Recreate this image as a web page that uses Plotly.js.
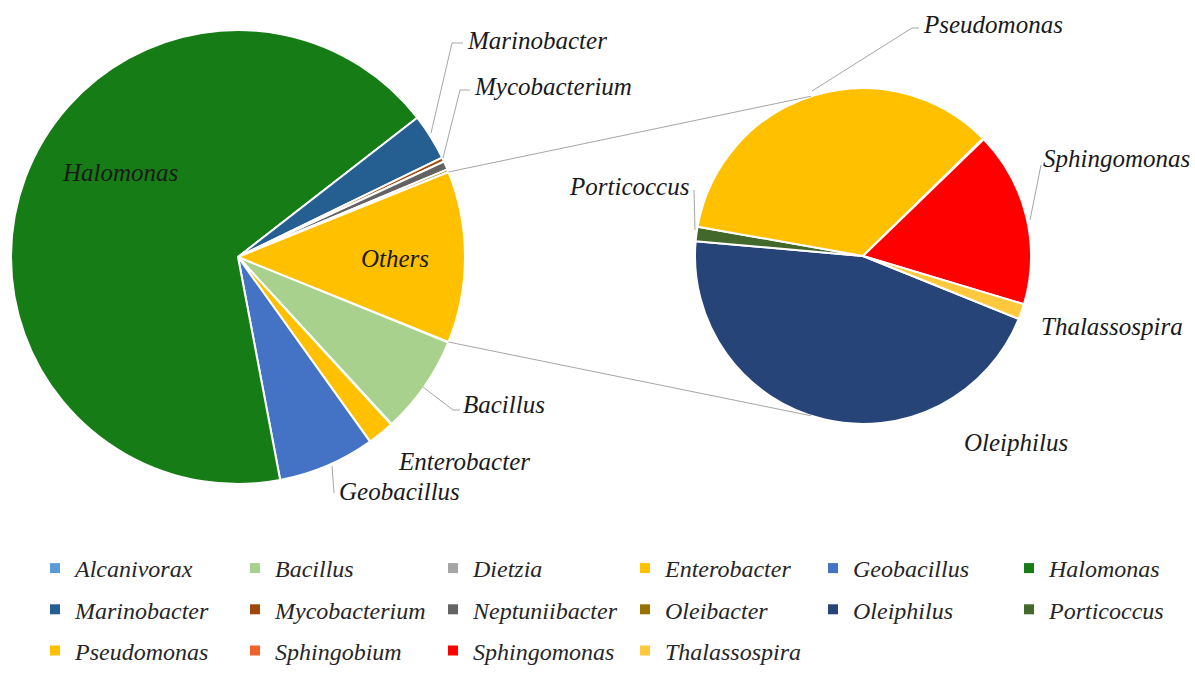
<!DOCTYPE html>
<html><head><meta charset="utf-8">
<script src="https://cdn.plot.ly/plotly-3.0.1.min.js"></script>
<style>html,body{margin:0;padding:0;background:#fff}#chart{width:1195px;height:673px}</style>
</head><body><div id="chart"></div>
<script>
// ---- data ----
const mainLabels = ['Alcanivorax','Bacillus','Dietzia','Enterobacter','Geobacillus','Halomonas','Marinobacter','Mycobacterium','Neptuniibacter','Oleibacter'];
const mainValues = [0.05, 7.0, 0.05, 1.9, 6.9, 67.4, 3.3, 0.3, 0.6, 0.2];
const subLabels = ['Oleiphilus','Porticoccus','Pseudomonas','Sphingobium','Sphingomonas','Thalassospira'];
const subValues = [5.53, 0.17, 4.26, 0.01, 2.06, 0.18];
const othersLabel = 'Others';
const legendLabels = ['Alcanivorax','Bacillus','Dietzia','Enterobacter','Geobacillus','Halomonas',
  'Marinobacter','Mycobacterium','Neptuniibacter','Oleibacter','Oleiphilus','Porticoccus',
  'Pseudomonas','Sphingobium','Sphingomonas','Thalassospira'];
const colorOf = {
  Alcanivorax:'#5B9BD5', Bacillus:'#A9D18E', Dietzia:'#A5A5A5', Enterobacter:'#FFC000',
  Geobacillus:'#4472C4', Halomonas:'#167C16', Marinobacter:'#255E91', Mycobacterium:'#9E480E',
  Neptuniibacter:'#636363', Oleibacter:'#997300', Oleiphilus:'#264478', Porticoccus:'#43682B',
  Pseudomonas:'#FFC000', Sphingobium:'#F0622A', Sphingomonas:'#FF0000', Thalassospira:'#FFC83D',
  Others:'#FFC000'
};

// ---- geometry (style) ----
const W = 1195, H = 673;
const L = {cx:238, cy:257, r:227};
const R = {cx:863, cy:256, r:168};
const px = x => x / W, py = y => 1 - y / H;
const dom = g => ({x:[px(g.cx-g.r), px(g.cx+g.r)], y:[py(g.cy+g.r), py(g.cy-g.r)]});

const othersVal = subValues.reduce((a,b)=>a+b,0);
const total = mainValues.reduce((a,b)=>a+b,0) + othersVal;
const othersDeg = othersVal / total * 360;
const rot = 90 + othersDeg / 2;

const lineW = {color:'#FFFFFF', width:2};
const pie1Labels = mainLabels.concat([othersLabel]);
const pie1 = {
  type:'pie', labels:pie1Labels, values:mainValues.concat([othersVal]),
  marker:{colors:pie1Labels.map(l=>colorOf[l]), line:lineW},
  sort:false, direction:'clockwise', rotation:rot, textinfo:'none',
  hoverinfo:'label+percent', showlegend:false, domain:dom(L)
};
const pie2 = {
  type:'pie', labels:subLabels, values:subValues,
  marker:{colors:subLabels.map(l=>colorOf[l]), line:lineW},
  sort:false, direction:'clockwise', rotation:rot, textinfo:'none',
  hoverinfo:'label+percent', showlegend:false, domain:dom(R)
};

const SERIF = 'Liberation Serif';
const fontLab = {family:SERIF, size:25, color:'#1a1a1a', style:'italic'};
const fontLeg = {family:SERIF, size:24, color:'#262626', style:'italic'};

// legend: one vertical legend per column (6 columns, filled row by row)
const colX = [54, 254, 452, 644, 832, 1028];
const legendTraces = legendLabels.map((l,i)=>({
  type:'scatter', x:[null], y:[null], mode:'markers', name:l,
  marker:{symbol:'square', size:10, color:colorOf[l]},
  legend: (i % 6) === 0 ? 'legend' : 'legend' + ((i % 6) + 1),
  legendgroup:'g' + i, hoverinfo:'skip'
}));

// label annotations: text, x, center y, anchor
const labelPos = [
  ['Halomonas',120,172,'center'], ['Others',395,258,'center'],
  ['Marinobacter',465,40,'left'], ['Mycobacterium',472,86,'left'],
  ['Bacillus',461,404,'left'], ['Enterobacter',396,461,'left'], ['Geobacillus',337,492,'left'],
  ['Pseudomonas',921,25,'left'], ['Porticoccus',567,186,'left'],
  ['Sphingomonas',1041,158,'left'], ['Thalassospira',1039,326,'left'], ['Oleiphilus',962,442,'left']
];
const annotations = labelPos.map(([t,x,y,a])=>({
  text:t, x:px(x), y:py(y), xref:'paper', yref:'paper', xanchor:a, yanchor:'middle',
  showarrow:false, font:fontLab
}));

const grey = {color:'#A6A6A6', width:1};
const path = pts => ({type:'path', xref:'paper', yref:'paper', layer:'above', line:grey,
  path: pts.map((p,i)=>(i?'L':'M')+px(p[0])+','+py(p[1])).join(' ')});
const leaders = [
  [[431,133],[452,43],[463,43]],
  [[443,158],[460,90],[470,90]],
  [[423,387],[453,410],[460,410]],
  [[332,466],[334,493]],
  [[812,91],[912,28],[919,28]],
  [[694,190],[695,230]],
  [[1041,165],[1030,220]]
];
const shapes = leaders.map(path);
// connector lines from Others slice edges to second pie
const h = othersDeg/2*Math.PI/180, a2 = 108*Math.PI/180;
const up1 = [L.cx + L.r*Math.cos(h), L.cy - L.r*Math.sin(h)];
const lo1 = [L.cx + L.r*Math.cos(h), L.cy + L.r*Math.sin(h)];
const up2 = [R.cx + R.r*Math.cos(a2), R.cy - R.r*Math.sin(a2)];
const lo2 = [R.cx + R.r*Math.cos(a2), R.cy + R.r*Math.sin(a2)];
shapes.push(path([up1,up2]), path([lo1,lo2]));

const layout = {
  width:W, height:H, margin:{l:0,r:0,t:0,b:0},
  paper_bgcolor:'#FFFFFF', plot_bgcolor:'rgba(0,0,0,0)',
  xaxis:{visible:false, range:[0,1]}, yaxis:{visible:false, range:[0,1]},
  showlegend:true, annotations, shapes
};
colX.forEach((cx,k)=>{
  const nItems = legendLabels.filter((_,i)=>i % 6 === k).length;
  layout[k === 0 ? 'legend' : 'legend' + (k+1)] = {
    orientation:'v', xanchor:'left', yanchor:'bottom', x:px(cx - 19),
    y: nItems === 3 ? 0 : py(H - 41 * (3 - nItems)),
    tracegroupgap:7, font:fontLeg, bgcolor:'rgba(0,0,0,0)', itemclick:false, itemdoubleclick:false
  };
});
Plotly.newPlot('chart', [pie1, pie2].concat(legendTraces), layout, {displayModeBar:false, staticPlot:true});
</script></body></html>
